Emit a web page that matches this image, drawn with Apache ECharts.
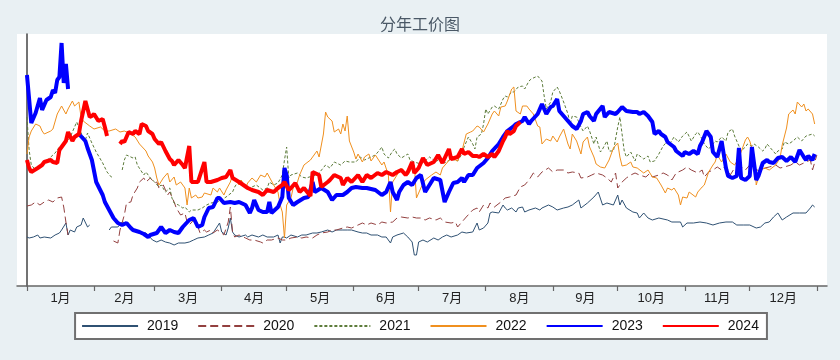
<!DOCTYPE html>
<html><head><meta charset="utf-8">
<script src="https://cdn.jsdelivr.net/npm/echarts@6/dist/echarts.min.js"></script>
<style>html,body{margin:0;padding:0;background:#e9f0f3;}#c{width:840px;height:360px;}</style>
</head><body><div id="c"></div>
<script>
// x = day of year (0 = 1月1日), y = 工价
const monthNames = ['1月','2月','3月','4月','5月','6月','7月','8月','9月','10月','11月','12月'];
const monthStarts = [0,31,59,90,120,151,181,212,243,273,304,334,365];
const monthMids = [15.5,45,74.5,105,135.5,166,196.5,227.5,258,288.5,319,349.5];
const years = ['2019','2020','2021','2022','2023','2024'];

const y2019 = [[0,124.5],[1,124],[3,124.5],[5,125.5],[6,124],[8,124.5],[11,124],[13,125.5],[15,126.5],[16,128],[18,131.5],[19,125.5],[20,128],[22,127],[23,129.5],[25,130.5],[26,134],[28,129.5],[29,130.5],[33,'-'],[38,128],[39,129.5],[42,129.5],[44,132],[46,131.5],[48,129.5],[50,128],[52,127],[55,126.5],[56,125.5],[58,123],[60,122],[62,123],[64,122],[66,121.5],[68,120.5],[70,121.5],[73,121.5],[75,122],[77,123],[79,124],[82,124.5],[84,125.5],[86,126.5],[89,131.5],[90,127],[92,125.5],[93,129],[94,134],[95,127],[96,125.5],[98,124.5],[101,125.5],[102,124.5],[104,125.5],[107,124.5],[109,125.5],[111,124.5],[114,124.5],[116,125.5],[117,121.5],[118,124.5],[119,124.5],[120,124],[122,125.5],[125,124.5],[127,125.5],[129,125.5],[132,126.5],[134,126.5],[136,127],[139,128],[141,127],[143,128],[146,128],[148,128],[150,128],[153,127],[155,126.5],[157,126.5],[159,125.5],[162,125.5],[164,124.5],[166,124.5],[168,121.5],[169,124.5],[171,125.5],[174,126.5],[176,124.5],[178,122],[179,115.5],[180,115.5],[181,122],[183,123],[185,122],[188,124],[190,123],[192,124.5],[194,125.5],[196,124.5],[199,125.5],[201,127],[203,126.5],[206,127],[208,131.5],[209,128],[211,129],[213,131.5],[214,136.5],[215,137],[218,136.5],[220,140.5],[221,139],[222,138],[224,139],[226,137],[227,139],[229,139.5],[230,137],[232,138],[235,139],[237,138],[238,139],[241,140.5],[243,139.5],[245,138],[248,139],[250,139.5],[252,140.5],[255,143],[256,139],[259,141.5],[262,144.5],[264,147],[266,140.5],[268,141.5],[271,140.5],[273,145.5],[274,140.5],[275,143],[277,139],[280,137],[282,136.5],[283,134],[285,136.5],[287,134],[289,133],[292,134],[296,133],[298,132],[302,132],[303,129.5],[305,131.5],[308,131.5],[311,132],[314,131.5],[317,130.5],[320,131.5],[323,132],[326,132],[328,130.5],[331,130.5],[334,130.5],[337,129],[339,129.5],[341,131.5],[343,132],[345,134.5],[347,136.5],[349,133],[351,134.5],[354,136.5],[357,136.5],[360,136.5],[362,139],[363,140.5],[364,139.5]];

const y2020 = [[0,140],[2,140.5],[4,142],[6,140.5],[8,142],[10,143],[12,142],[14,144],[16,144.5],[17,139.5],[18,132],[19,125.5],[30,'-'],[40,122.5],[42,121.5],[43,128],[45,135.5],[46,141.5],[48,142],[49,145.5],[51,149],[52,152],[54,154],[55,152],[57,154],[59,151.5],[60,152],[61,149],[63,150.5],[65,145.5],[66,147],[68,142],[69,139],[71,135.5],[73,136.5],[74,132],[75,130.5],[77,133],[79,129.5],[80,126.5],[82,128],[83,127],[85,128],[86,126.5],[88,128],[90,126.5],[91,125.5],[93,132],[94,139.5],[95,127],[96,124.5],[98,125.5],[101,124],[103,123],[105,123],[108,122],[109,121.5],[111,123],[113,123],[116,124],[118,123],[120,123],[122,124],[125,124.5],[127,124],[129,124.5],[132,124],[134,125.5],[136,126.5],[139,127],[141,128],[143,128],[146,129],[148,129.5],[150,129],[153,130.5],[155,131.5],[157,130.5],[159,131.5],[162,130.5],[164,132],[166,131.5],[169,132],[171,134],[173,134.5],[176,134],[178,134.5],[180,134],[182,134],[184,133],[186,134],[189,133],[191,134],[193,132],[196,131.5],[198,132],[199,129.5],[201,132],[203,134.5],[206,138],[208,139],[209,137],[211,140.5],[213,139],[214,141.5],[216,139.5],[219,142],[221,144],[223,144.5],[226,145.5],[228,149.5],[230,150.5],[232,153],[234,156.5],[236,154.5],[238,157],[241,159],[243,157],[245,158],[248,158],[250,156.5],[252,157],[255,156.5],[256,154],[259,154.5],[261,155.5],[263,156.5],[266,155.5],[268,154],[270,152],[272,156.5],[273,149],[275,152],[277,154],[279,155.5],[281,156.5],[283,155.5],[286,154.5],[288,156.5],[289,154.5],[292,155.5],[294,156.5],[296,155.5],[298,153],[300,156.5],[303,158],[305,159.5],[307,158],[310,156.5],[312,158],[313,154.5],[315,157],[317,158],[319,159.5],[321,158],[323,160.5],[325,155.5],[327,159],[329,160.5],[332,158],[334,160.5],[336,159],[339,157],[341,159],[343,159.5],[346,160.5],[348,159],[350,159.5],[353,160.5],[355,162],[357,160.5],[359,161.5],[362,163],[363,158],[365,165.5]];

const y2021 = [[0,184.5],[1,168],[2,160.5],[4,158],[6,159],[8,161.5],[11,164.5],[13,166.5],[15,169.5],[18,171.5],[20,174.5],[22,179.5],[23,182],[25,176.5],[27,173],[28,176.5],[30,171.5],[32,167],[35,161.5],[37,157],[39,154.5],[40,154],[42,'-'],[44,158],[45,163],[46,165.5],[49,164],[50,164.5],[51,160.5],[54,155.5],[55,157],[57,154],[59,152],[61,149.5],[62,150.5],[64,147],[66,149],[67,144],[68,141.5],[70,140.5],[72,139],[73,139.5],[75,137],[76,138],[79,138],[81,139],[83,140.5],[85,141.5],[88,142],[90,143],[92,144.5],[95,147],[96,149.5],[98,153],[100,151.5],[102,149],[104,149.5],[106,150.5],[109,148],[111,149],[112,152],[114,150.5],[116,151.5],[118,155.5],[119,163],[120,169.5],[121,154],[122,155.5],[125,156.5],[127,154.5],[129,154],[132,155],[134,155.5],[135,156.5],[138,160.5],[140,159],[142,162],[145,160.5],[147,162.5],[149,162],[152,162],[154,164.5],[156,163],[158,164],[161,165.5],[163,168],[164,169.5],[165,166],[167,164],[169,167.5],[170,168.5],[171,166],[173,164],[176,166],[177,163],[179,162],[182,161],[184,162.5],[186,164.5],[189,162],[191,164],[193,161.5],[196,163.5],[199,162.5],[201,166],[202,169.5],[204,174.5],[206,171],[207,168.5],[208,174.5],[210,176],[211,181],[212,188.5],[213,186],[215,189.5],[216,190],[218,188.5],[220,193.5],[221,195],[222,194.5],[224,197],[225,197],[227,199.5],[229,200],[230,198.5],[232,202.5],[233,203.5],[235,204.5],[236,205],[238,202.5],[239,195],[240,188.5],[242,192],[243,197],[245,199.5],[246,197.5],[248,192],[250,186],[251,181],[252,185],[254,184.5],[256,179.5],[257,177.5],[259,180],[260,177.5],[262,171],[263,174.5],[265,167],[266,168.5],[268,172.5],[269,167.5],[271,167.5],[273,179.5],[274,184.5],[275,176],[276,167.5],[277,164.5],[279,167],[281,162.5],[282,166],[285,163.5],[287,165],[288,162],[290,162.5],[292,166],[294,170],[296,172.5],[297,171],[299,174.5],[301,172],[303,175],[304,176],[305,177],[307,172.5],[309,176],[310,177],[312,173.5],[313,171],[315,168.5],[317,171],[318,172.5],[319,172],[321,174.5],[323,172.5],[324,177],[326,178.5],[327,175],[329,170],[330,167.5],[332,169.5],[333,171],[335,170],[336,171],[338,169.5],[340,167.5],[341,168.5],[342,171],[344,168.5],[346,166],[347,167.5],[349,168.5],[350,172],[352,171],[354,172.5],[356,174.5],[358,172.5],[360,175],[363,176],[364,175]];

const y2022 = [[0,166],[1,174.5],[2,177.5],[4,181],[6,180],[7,177.5],[8,176],[11,177.5],[12,178.5],[14,186],[16,190],[18,186],[19,188.5],[21,192.5],[22,190],[24,192],[25,184.5],[26,182.5],[29,180],[31,178.5],[34,179.5],[36,177.5],[38,177.5],[41,178.5],[43,177],[45,177.5],[48,176],[50,174.5],[52,171],[55,167.5],[56,165],[58,162],[59,159],[60,154],[61,150.5],[63,154],[65,156.5],[66,152],[68,154.5],[69,150.5],[71,152],[73,149],[74,140.5],[75,149],[76,144],[78,145.5],[79,144],[81,144.5],[82,146.5],[85,145.5],[86,149],[88,147],[89,149],[91,145.5],[92,148],[94,152],[95,155.5],[98,150.5],[99,153],[101,149],[102,151.5],[104,154],[106,152],[108,155.5],[110,154.5],[111,156.5],[114,150.5],[116,147],[117,140.5],[118,137],[119,124],[120,140.5],[122,144],[123,149],[125,152],[126,155.5],[128,160.5],[131,163],[133,166],[134,167.5],[135,164.5],[137,176],[138,187],[139,184.5],[141,182.5],[142,177],[144,178.5],[145,176],[146,181],[147,177.5],[148,185],[149,172.5],[151,167],[152,163.5],[153,166],[155,162],[156,164.5],[158,166],[159,162.5],[161,165.5],[164,160.5],[165,162],[167,155.5],[168,137],[169,152],[171,155.5],[173,159],[176,155.5],[178,159],[179,160.5],[180,144],[182,149],[184,153],[187,155.5],[189,157],[191,155.5],[192,159],[194,161.5],[196,164],[198,163],[199,162.5],[201,167.5],[203,176],[205,177],[206,177.5],[208,180],[209,179.5],[211,177],[213,181],[215,186],[216,187.5],[218,185],[219,189.5],[221,190],[222,192.5],[224,198.5],[225,199.5],[226,187.5],[228,186],[229,190],[231,190],[232,188.5],[234,186],[236,180],[237,179.5],[238,171],[240,173.5],[242,172.5],[243,175],[245,172],[246,174.5],[248,178.5],[250,171],[251,168.5],[252,176],[254,172.5],[256,166],[257,172],[259,174.5],[260,169.5],[262,164.5],[263,161],[265,159.5],[267,159],[269,163],[271,169],[273,171.5],[274,164.5],[275,160],[277,160.5],[279,162],[280,159.5],[282,159],[285,156.5],[287,158],[289,154.5],[291,154],[293,150.5],[295,146.5],[296,149],[298,148],[299,149],[301,145.5],[302,140.5],[303,144.5],[305,144],[306,147],[309,144.5],[310,147],[312,149.5],[313,150.5],[315,157],[317,160.5],[318,162],[319,165.5],[321,162],[323,166],[325,162],[327,160.5],[329,164],[332,173],[333,174.5],[334,172.5],[336,165.5],[337,150.5],[339,158],[341,159],[343,158],[346,160.5],[348,164],[349,170.5],[351,179],[352,186],[354,188],[355,186],[356,192],[358,189.5],[359,191],[360,187.5],[361,188.5],[363,186],[364,181]];

const y2023 = [[0,205.5],[2,181.5],[4,186.5],[6,194],[7,188],[9,193],[11,194.5],[12,198],[13,196.5],[14,203],[15,204.5],[16,221.5],[17,201.5],[18,211],[19,198.5],[21,'-'],[24,176],[27,172.5],[28,169],[30,163],[32,152],[35,145.5],[36,142],[38,138],[40,134],[42,131.5],[44,130.5],[46,131.5],[48,129],[49,128],[52,127],[54,126],[56,124.5],[57,125.5],[60,126.5],[62,129.5],[64,126.5],[66,128],[68,127],[70,126.5],[72,129.5],[75,133],[77,134],[79,129.5],[81,130.5],[82,134.5],[84,139],[86,139.5],[88,144],[89,144],[91,141.5],[94,142],[96,141.5],[98,142],[101,140.5],[103,136.5],[104,139],[105,143],[107,138],[109,137],[111,137],[112,142],[113,136.5],[116,139.5],[118,144.5],[119,159],[120,155.5],[121,144],[123,140.5],[125,142],[128,144],[130,144.5],[132,152],[133,147],[136,149],[139,147],[141,143],[143,145.5],[146,145.5],[148,147],[150,149],[152,149.5],[155,149],[157,149],[161,148],[164,145.5],[166,147],[168,152],[169,147],[171,143],[172,147],[174,150.5],[176,152],[178,150.5],[180,154],[182,155.5],[184,147],[186,150.5],[188,154],[191,153],[193,142],[195,147],[197,151.5],[199,152],[201,154],[202,152],[204,155.5],[206,155.5],[208,159],[211,161.5],[213,164],[215,167.5],[218,171],[220,174.5],[222,177.5],[225,180],[226,181],[229,182.5],[230,184.5],[232,181],[233,182.5],[236,186],[237,188.5],[238,191],[240,186],[242,189.5],[243,190],[245,193.5],[246,187.5],[248,185],[250,182.5],[252,180],[254,178.5],[256,182.5],[257,186],[259,187],[260,185],[262,182.5],[263,186],[266,190],[267,184.5],[269,187],[272,186],[273,187],[275,189.5],[277,187.5],[280,187],[282,187],[283,186],[285,187],[287,185],[289,182],[290,176],[292,177.5],[293,176],[295,174.5],[296,172],[299,169.5],[300,167.5],[303,165],[304,167],[306,166],[308,167.5],[310,166],[311,170],[312,172],[314,177.5],[316,174.5],[317,167],[319,164.5],[321,172.5],[323,159],[324,155],[326,154],[328,155],[329,169],[330,154],[332,153],[334,155],[335,169.5],[337,153],[338,155],[340,161.5],[342,163],[343,162],[345,161.5],[347,164],[349,164.5],[351,162.5],[353,164.5],[355,162],[357,168],[359,164.5],[360,163],[361,165],[363,163],[364,166]];

const y2024 = [[0,163],[1,159],[2,157],[5,159],[7,160.5],[8,162],[11,163],[12,162],[14,161.5],[15,168],[18,172.5],[19,177],[21,172.5],[22,174.5],[24,176],[25,182.5],[27,192.5],[29,184.5],[30,185],[31,186],[33,182.5],[35,183.5],[36,179.5],[37,175],[40,'-'],[43,171],[44,172.5],[45,172],[47,177],[49,176],[50,177.5],[52,176],[53,181],[55,180],[56,177.5],[58,176],[59,173.5],[61,171],[62,172],[64,167.5],[66,163.5],[67,162.5],[68,160.5],[70,163],[72,160.5],[73,159],[75,170],[76,152],[77,152],[79,152],[82,162],[83,152],[85,152],[88,153],[90,154],[92,154.5],[94,158],[95,154],[98,152],[100,150.5],[102,149],[104,148],[107,147],[109,145.5],[111,148],[114,147],[116,149],[118,150.5],[119,152],[121,148],[122,149],[124,151.5],[126,147],[128,149],[131,145],[132,157],[133,156.5],[135,155.5],[136,149.5],[139,152],[140,153],[142,155.5],[145,154],[146,150.5],[148,154],[150,152],[153,155.5],[155,152],[157,155.5],[159,154],[162,156.5],[164,155.5],[166,157],[169,155.5],[171,157],[173,158],[175,155.5],[176,157],[178,162],[179,156.5],[181,159],[183,164],[185,160.5],[188,162],[190,165.5],[192,161.5],[195,168.5],[196,163.5],[199,164.5],[201,168.5],[202,166],[204,167],[206,165],[208,165],[209,164.5],[211,166],[213,164.5],[215,166],[216,164.5],[218,167.5],[220,172.5],[221,174.5],[222,177.5],[223,176],[225,177.5],[226,180],[228,182]];

const seriesData = [y2019, y2020, y2021, y2022, y2023, y2024];
const colors = ['#2f5173', '#93403f', '#5d7c3b', '#f0901f', '#0000ff', '#ff0000'];
const widths = [1, 1, 1, 1, 4, 4];
const dashes = ['solid', [8, 4], [3, 2], 'solid', 'solid', 'solid'];

const chart = echarts.init(document.getElementById('c'), null, {renderer: 'canvas'});
chart.setOption({
  animation: false,
  backgroundColor: '#e9f0f3',
  title: {
    text: '分年工价图', left: 'center', top: 11,
    textStyle: {fontSize: 16, fontWeight: 'normal', color: '#4a5866', fontFamily: 'Noto Sans CJK SC'}
  },
  grid: {left: 17, top: 34, right: 13, bottom: 74, show: true, backgroundColor: '#ffffff', borderWidth: 0},
  legend: {
    data: years, left: 'center', top: 313,
    backgroundColor: '#ffffff', borderColor: '#707070', borderWidth: 2, borderRadius: 0,
    padding: [6, 8, 6, 6], itemWidth: 56, itemHeight: 14, itemGap: 19,
    itemStyle: {opacity: 0},
    textStyle: {fontSize: 14, color: '#111', fontFamily: 'Liberation Sans', padding: [0, 0, 0, 4]}
  },
  xAxis: {
    type: 'value', min: -4.6, max: 369.7,
    axisLine: {show: true, lineStyle: {color: '#666', width: 1.5}},
    axisTick: {show: true, customValues: monthStarts, length: 5, lineStyle: {color: '#666', width: 1.2}},
    axisLabel: {
      customValues: monthMids, margin: 6, fontSize: 13, color: '#222',
      fontFamily: 'Liberation Sans, Noto Sans CJK SC',
      formatter: function (v) { const i = monthMids.indexOf(v); return i >= 0 ? monthNames[i] : ''; }
    },
    splitLine: {show: false}
  },
  yAxis: {
    type: 'value', min: 100, max: 226,
    axisLine: {show: true, lineStyle: {color: '#444', width: 1.5}},
    axisTick: {show: false}, axisLabel: {show: false}, splitLine: {show: false}
  },
  series: years.map(function (y, i) {
    return {
      name: y, type: 'line', data: seriesData[i], showSymbol: false, symbol: 'none',
      connectNulls: false, silent: true, z: 2 + i,
      lineStyle: {color: colors[i], width: widths[i], type: dashes[i]},
      itemStyle: {color: colors[i]},
      emphasis: {disabled: true}
    };
  })
});
</script></body></html>
